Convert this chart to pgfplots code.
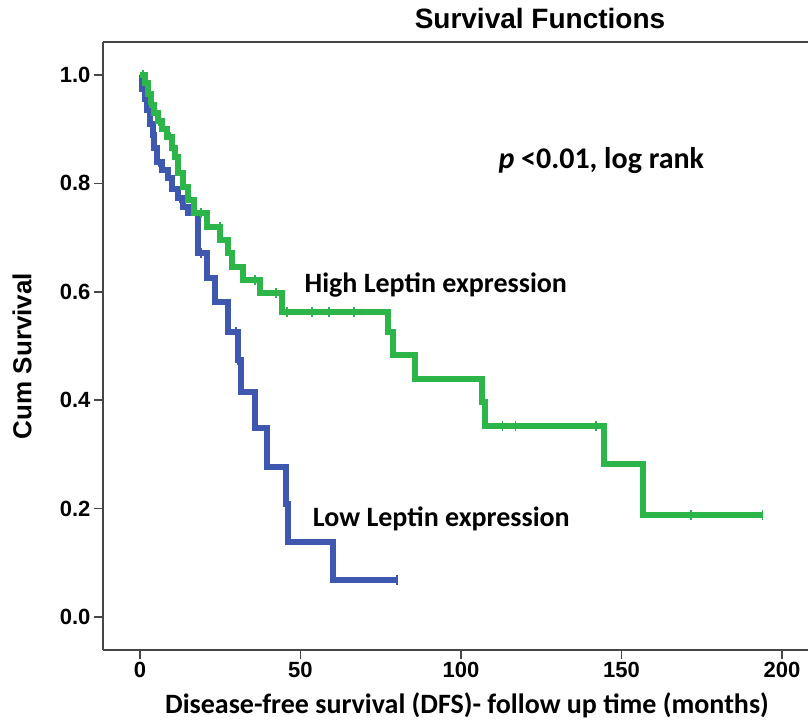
\documentclass[border=0pt]{standalone}
\usepackage{fontspec}
\setmainfont{Carlito}
\newfontfamily\arialfont{Liberation Sans}
\usepackage{pgfplots}
\pgfplotsset{compat=1.18}
\definecolor{kmgreen}{RGB}{44,182,74}
\definecolor{kmblue}{RGB}{62,88,176}
\definecolor{axgray}{RGB}{70,70,70}
\begin{document}
\begin{tikzpicture}
\begin{axis}[
  scale only axis, width=705pt, height=608pt,
  xmin=-11.5, xmax=208.1, ymin=-0.061, ymax=1.061,
  axis x line*=bottom, axis y line*=left,
  axis line style={line width=1.8pt, axgray, -},
  xtick={0,50,100,150,200}, ytick={0,0.2,0.4,0.6,0.8,1},
  tick align=outside, major tick length=9pt,
  tick style={line width=1.6pt, axgray},
  tick label style={font=\arialfont\bfseries\fontsize{22}{24}\selectfont},
  /pgf/number format/assume math mode=true,
  yticklabel style={/pgf/number format/.cd, fixed, fixed zerofill, precision=1},
  clip=false,
  every axis plot/.append style={line width=6pt, line join=miter},
]
\coordinate (bl) at (rel axis cs:0,0);
\coordinate (tr) at (rel axis cs:1,1);
\draw[line width=1.8pt, axgray] (rel axis cs:0,1) -- (rel axis cs:1,1);

% low leptin
\addplot[kmblue, const plot] coordinates {
  (0,1.0) (0.8,0.975) (1.5,0.955) (2.2,0.935) (3,0.91) (4,0.89)
  (4.5,0.865) (5.3,0.84) (7,0.825) (8.7,0.81) (10,0.79) (11.8,0.774)
  (13.5,0.757) (15,0.745) (18,0.671) (20.8,0.625) (23.4,0.581)
  (27.4,0.525) (30.5,0.474) (31.5,0.415) (35.8,0.348) (39.5,0.277)
  (45.5,0.208) (46,0.139) (60.2,0.069) (80,0.069)
};
\addplot[kmblue, only marks, mark=|, mark size=5pt, mark options={line width=1.5pt}] coordinates {
  (2.5,0.935) (6,0.84) (12.5,0.774) (19,0.671) (30,0.525) (30.5,0.474) (45.5,0.208) (80,0.069)
};

% high leptin
\addplot[kmgreen, const plot] coordinates {
  (0,1.0) (1.5,0.985) (2.5,0.965) (3.5,0.945) (4.5,0.93) (5.5,0.915)
  (7,0.9) (8.5,0.885) (10,0.865) (11,0.848) (12,0.82) (13.3,0.793)
  (15,0.77) (17,0.745) (21,0.719) (25,0.695) (27.5,0.671) (28.6,0.645)
  (32.2,0.621) (37.4,0.597) (44.2,0.562) (77.3,0.525) (78.8,0.483)
  (85.7,0.44) (106.5,0.396) (107.5,0.352) (144.5,0.282) (156.7,0.188)
  (194,0.188)
};
\addplot[kmgreen, only marks, mark=|, mark size=5pt, mark options={line width=1.5pt}] coordinates {
  (1,1.0) (3,0.965) (6,0.915) (9.5,0.885) (19,0.745) (24.9,0.719)
  (35.8,0.621) (42.4,0.597) (45.8,0.562) (53.6,0.562) (58.9,0.562)
  (66.7,0.562) (113,0.352) (117,0.352) (142,0.352) (171.6,0.188) (194,0.188)
};

\node[anchor=west, font=\bfseries\fontsize{30}{34}\selectfont] at (axis cs:110.6,0.842) {\textit{p} <0.01, log rank};
\node[anchor=west, font=\bfseries\fontsize{28}{32}\selectfont] at (axis cs:50.2,0.612) {High Leptin expression};
\node[anchor=west, font=\bfseries\fontsize{28}{32}\selectfont] at (axis cs:52.8,0.181) {Low Leptin expression};
\node[font=\arialfont\bfseries\fontsize{28}{32}\selectfont] at ([xshift=437pt,yshift=23pt]rel axis cs:0,1) {Survival Functions};
\node[rotate=90, font=\arialfont\bfseries\fontsize{26}{30}\selectfont] at ([xshift=-81pt,yshift=-10pt]rel axis cs:0,0.5) {Cum Survival};
\node[font=\bfseries\fontsize{28}{32}\selectfont] at ([xshift=364pt,yshift=-55pt]rel axis cs:0,0) {Disease-free survival (DFS)- follow up time (months)};
\end{axis}
\pgfresetboundingbox
\path[use as bounding box] ([xshift=-103pt,yshift=-72pt]bl) rectangle ([yshift=42pt]tr);
\end{tikzpicture}
\end{document}
